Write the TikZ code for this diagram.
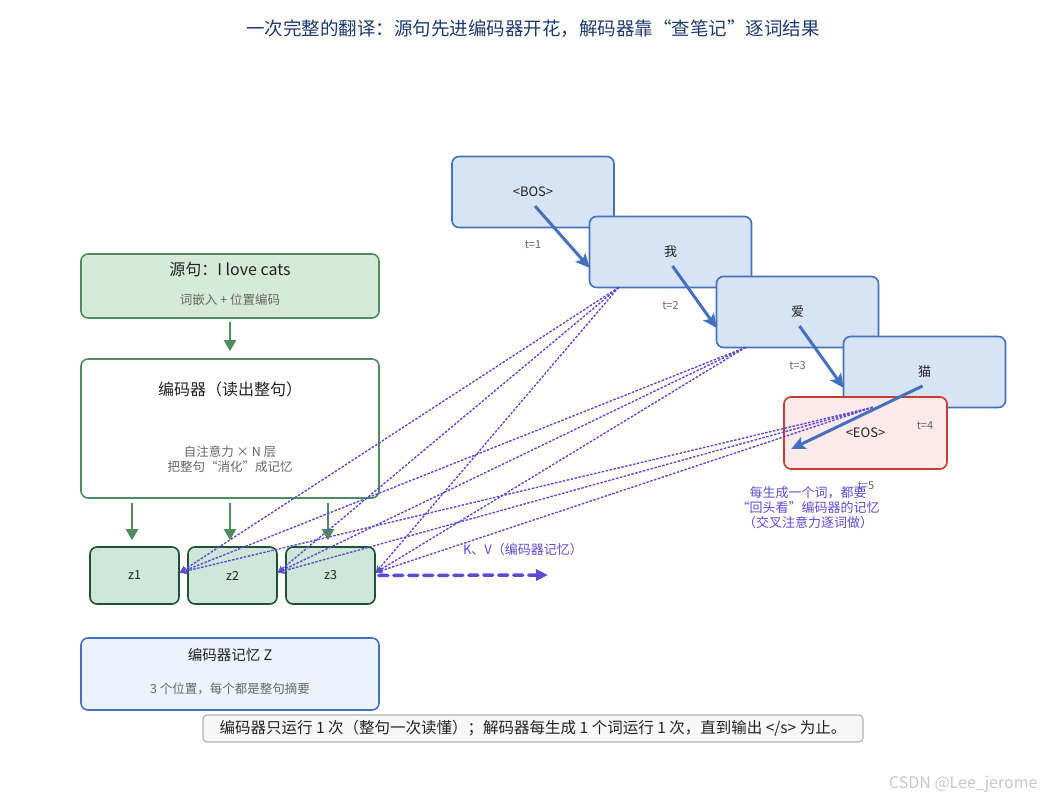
\documentclass[tikz,border=0pt]{standalone}
\usepackage{fontspec}
\setmainfont{Noto Sans CJK SC}
\usetikzlibrary{arrows.meta,positioning}

\definecolor{titleblue}{HTML}{1F3A6E}
\definecolor{encgreen}{HTML}{528B60}
\definecolor{srcfill}{HTML}{D6EBD7}
\definecolor{zfill}{HTML}{CFE7DA}
\definecolor{zborder}{HTML}{1E5235}
\definecolor{decblue}{HTML}{4570BE}
\definecolor{decfill}{HTML}{D6E4F3}
\definecolor{eosred}{HTML}{C43C32}
\definecolor{eosfill}{HTML}{FCE9E9}
\definecolor{memfill}{HTML}{EDF3FD}
\definecolor{attnpurple}{HTML}{5A4BD0}
\definecolor{notegray}{HTML}{666666}
\definecolor{txtdark}{HTML}{222222}

\newcommand{\fsz}[1]{\fontsize{#1}{#1}\selectfont}

\begin{document}
\begin{tikzpicture}[x=1pt,y=-1pt,
	box/.style={draw,rounded corners=7pt,line width=1.6pt,inner sep=0pt,text=txtdark},
	src box/.style={box,draw=encgreen,fill=srcfill,minimum width=298pt,minimum height=64pt},
	enc box/.style={box,draw=encgreen,fill=white,minimum width=298pt,minimum height=139pt},
	mem box/.style={box,draw=decblue,fill=memfill,minimum width=298pt,minimum height=72pt},
	z node/.style={box,draw=zborder,fill=zfill,minimum width=89pt,minimum height=57pt,font=\fsz{12.5}},
	dec node/.style={box,draw=decblue,fill=decfill,minimum width=162pt,minimum height=71pt,font=\fsz{13}},
	eos node/.style={box,draw=eosred,fill=eosfill,minimum width=163pt,minimum height=72pt,font=\fsz{13}},
	head/.style={font=\fsz{16},text=txtdark},
	sub/.style={font=\fsz{12.5},text=notegray,align=center},
	step label/.style={font=\fsz{11},text=notegray},
	feed/.style={draw=encgreen,line width=2.4pt,-{Triangle[length=11pt,width=12pt]}},
	next/.style={draw=decblue,line width=3pt,-{Stealth[length=14pt,width=13pt,inset=3pt]}},
	cross/.style={draw=attnpurple,line width=1.4pt,dash pattern=on 2.5pt off 1.5pt,-{Stealth[length=7pt,width=7pt]}},
	kv/.style={draw=attnpurple,line width=3.5pt,line cap=round,dash pattern=on 9pt off 6pt,-{Triangle[length=12pt,width=11pt]}}
]
	\useasboundingbox (0,0) rectangle (1044,802);

	\node[font=\fsz{18.5},text=titleblue] (title) at (533,29) {一次完整的翻译：源句先进编码器开花，解码器靠“查笔记”逐词结果};

	% encoder side
	\node[src box] (src) at (230,286) {};
	\node[head] (srchead) at (230,269) {源句：I love cats};
	\node[sub] (srcsub) at (230,300) {词嵌入 + 位置编码};

	\node[enc box] (enc) at (230,428.5) {};
	\node[head] (enchead) at (230,389) {编码器（读出整句）};
	\node[sub] (encsub) at (230,459.5) {自注意力 × N 层\\[2.5pt]把整句“消化”成记忆};

	\draw[feed,shorten <=3pt,shorten >=7pt] (src) -- (enc);

	\foreach \i/\x in {1/134.5,2/232.5,3/330.5} {
		\node[z node] (z\i) at (\x,575.5) {z\i};
		\draw[feed,shorten <=4pt,shorten >=6pt] ([xshift=-2.5pt]enc.south -| z\i.north) -- ([xshift=-2.5pt]z\i.north);
	}

	\node[mem box] (mem) at (230,674) {};
	\node[head,font=\fsz{14.5}] (memhead) at (230,655) {编码器记忆 Z};
	\node[sub] (memsub) at (230,689) {3 个位置，每个都是整句摘要};

	% decoder side
	\foreach \k/\x/\y/\w in {0/533/192/<BOS>,1/670.5/252/我,2/797.5/312/爱,3/924.5/372/猫} {
		\node[dec node] (d\k) at (\x,\y) {\w};
	}
	\foreach \k/\x/\y in {0/533/245,1/670.5/306,2/797.5/366} {
		\node[step label] (t\k) at (\x,\y) {t=\the\numexpr\k+1\relax};
	}
	\node[eos node] (eos) at (865.5,433) {<EOS>};
	\node[step label] (t3) at (925,426) {t=4};
	\node[step label] (t4) at (866,486) {t=5};

	\foreach \k [evaluate=\k as \j using int(\k+1)] in {0,1,2} {
		\draw[next] ([shift={(2pt,-14pt)}]d\k.center) -- ([shift={(1pt,-16pt)}]d\j.west);
	}
	\draw[next] ([shift={(-2pt,-14pt)}]d3.center) -- ([shift={(8pt,-16pt)}]eos.west);

	\foreach \k in {1,2,3} {
		\foreach \i in {1,2,3} {
			\draw[cross] ([xshift=30pt,yshift=1pt]d\k.south west) -- ([yshift=3pt]z\i.east);
		}
	}

	\coordinate (kvend) at (548,575);
	\draw[kv] ([xshift=3pt]z3.east) -- (kvend);
	\node[font=\fsz{13},text=attnpurple] (kvlabel) at (523,550) {K、V（编码器记忆）};

	\node[font=\fsz{13},text=attnpurple,align=center] (note) at (808,508) {每生成一个词，都要\\[2pt]“回头看”编码器的记忆\\[2pt]（交叉注意力逐词做）};

	\node[draw=black!30,line width=1.2pt,fill=black!3,rounded corners=4pt,minimum width=660pt,minimum height=27pt,inner sep=0pt,font=\fsz{15.5},text=txtdark] (footer) at (533,728.5) {编码器只运行 1 次（整句一次读懂）；解码器每生成 1 个词运行 1 次，直到输出 </s> 为止。};

	\node[font=\fsz{16},text=black!22,anchor=east] (mark) at (1041,784) {CSDN @Lee\_jerome};
\end{tikzpicture}
\end{document}
